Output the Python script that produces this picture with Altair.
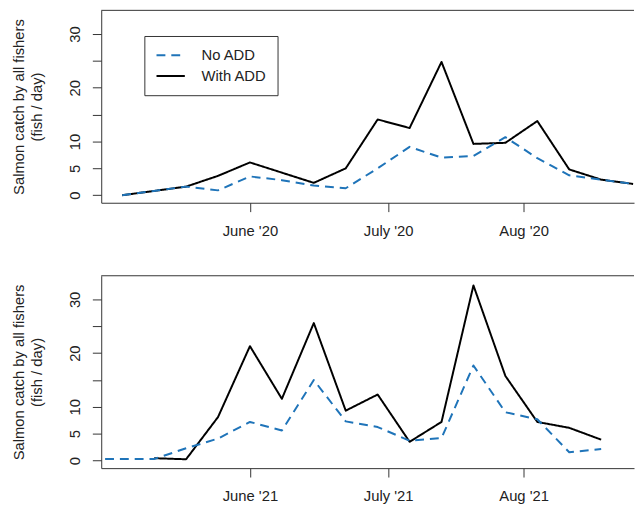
import json
import altair as alt
import pandas as pd

# ---------------- data ----------------
SERIES = ["No ADD", "With ADD"]

# 2020 season: days since first weekly sample
days_2020 = [0, 7, 14, 21, 28, 35, 42, 49, 56, 63, 70, 77, 84, 91, 98, 105, 112]
no_add_2020 = [0.0, 0.8, 1.6, 0.9, 3.5, 2.8, 1.8, 1.3, 5.0, 9.0, 7.0, 7.3, 10.8, 6.9, 3.7, 2.9, 2.1]
with_add_2020 = [0.0, 0.8, 1.6, 3.6, 6.1, 4.2, 2.3, 5.0, 14.1, 12.5, 24.8, 9.55, 9.75, 13.8, 4.8, 2.9, 2.1]

# 2021 season
days_2021_no = [-7, 0, 7, 14, 21, 28, 35, 42, 49, 56, 63, 70, 77, 84, 91, 98, 105]
no_add_2021 = [0.3, 0.3, 0.3, 2.3, 4.1, 7.2, 5.6, 15.0, 7.3, 6.25, 3.7, 4.2, 17.7, 9.0, 7.7, 1.55, 2.15]
days_2021_with = [7, 14, 21, 28, 35, 42, 49, 56, 63, 70, 77, 84, 91, 98, 105]
with_add_2021 = [0.45, 0.25, 8.1, 21.3, 11.5, 25.6, 9.3, 12.3, 3.5, 7.2, 32.6, 15.75, 7.2, 6.1, 3.9]

tick_days = [28, 58.3, 88.0]
tick_labels_2020 = ["June '20", "July '20", "Aug '20"]
tick_labels_2021 = ["June '21", "July '21", "Aug '21"]

y_ticks = [0, 5, 10, 15, 20, 25, 30]
y_labeled = [0, 5, 10, 20, 30]
y_title = ["Salmon catch by all fishers", "(fish / day)"]

# ---------------- style ----------------
FONT = "Liberation Sans"
BLUE = "#1f74b9"
AXIS = "#333333"
TEXT = "#222222"
W, H = 540, 195
X_DOMAIN = [-4.6, 112.2]
Y_DOMAIN = [-1.4, 34.4]


def panel(days_no, no_vals, days_with, with_vals, tick_labels, show_legend):
    df_no = pd.DataFrame({"day": days_no, "catch": no_vals, "series": SERIES[0]})
    df_with = pd.DataFrame({"day": days_with, "catch": with_vals, "series": SERIES[1]})

    x_expr = f"{json.dumps(tick_labels)}[indexof({json.dumps(tick_days)}, datum.value)]"
    x = alt.X(
        "day:Q",
        scale=alt.Scale(domain=X_DOMAIN, nice=False, zero=False),
        axis=alt.Axis(
            values=tick_days, labelExpr=x_expr, title=None,
            labelBaseline="top", labelPadding=12, labelFlush=False,
            labelOverlap=False,
        ),
    )
    y = alt.Y(
        "catch:Q",
        scale=alt.Scale(domain=Y_DOMAIN, nice=False, zero=False),
        axis=alt.Axis(
            values=y_ticks,
            labelExpr=f"indexof({json.dumps(y_labeled)}, datum.value) >= 0 ? datum.label : ''",
            labelAngle=270, labelAlign="center", labelBaseline="alphabetic",
            labelPadding=13, labelOverlap=False, labelFlush=False,
            title=y_title, titleAngle=270, titleAlign="center",
            titleBaseline="alphabetic", titleLineHeight=18.8,
            titleX=-79, titleY=H / 2,
        ),
    )
    if show_legend:
        leg = alt.Legend(
            title=None, orient="none", legendX=43.7, legendY=26,
            direction="vertical", strokeColor=AXIS, fillColor="white",
            padding=11, symbolType="M-1,0H3", symbolSize=206,
            symbolStrokeWidth=2, labelFont=FONT, labelFontSize=15,
            labelColor=TEXT, labelOffset=30, rowPadding=4,
        )
    else:
        leg = None
    color = alt.Color("series:N", scale=alt.Scale(domain=SERIES, range=[BLUE, "#000000"]), legend=leg)
    dash = alt.StrokeDash("series:N", scale=alt.Scale(domain=SERIES, range=[[9, 6], [1, 0]]), legend=leg)

    solid = alt.Chart(df_with).mark_line(clip=True, strokeWidth=2, strokeJoin="round").encode(
        x=x, y=y, color=color, strokeDash=dash)
    dashed = alt.Chart(df_no).mark_line(clip=True, strokeWidth=2, strokeJoin="round").encode(
        x=x, y=y, color=color, strokeDash=dash)
    border = alt.Chart(pd.DataFrame({"k": [0]})).mark_rule(color=AXIS, strokeWidth=1).encode(
        x=alt.value(0), x2=alt.value(W), y=alt.value(0))
    return alt.layer(solid, dashed, border).properties(width=W, height=H)


top = panel(days_2020, no_add_2020, days_2020, with_add_2020, tick_labels_2020, True)
bottom = panel(days_2021_no, no_add_2021, days_2021_with, with_add_2021, tick_labels_2021, False)

chart = (
    alt.vconcat(top, bottom, spacing=37)
    .resolve_scale(color="independent", strokeDash="independent")
    .properties(padding={"left": 3.5, "top": -2, "right": 0, "bottom": 0})
    .configure(font=FONT)
    .configure_view(stroke=None)
    .configure_axis(
        domainColor=AXIS, tickColor=AXIS, labelColor=TEXT, titleColor=TEXT,
        labelFont=FONT, titleFont=FONT, labelFontSize=15, titleFontSize=15,
        titleFontWeight="normal", grid=False, tickSize=9, domainWidth=1, tickWidth=1,
    )
)

chart.save("out.html", embed_options={"renderer": "svg", "actions": False})
